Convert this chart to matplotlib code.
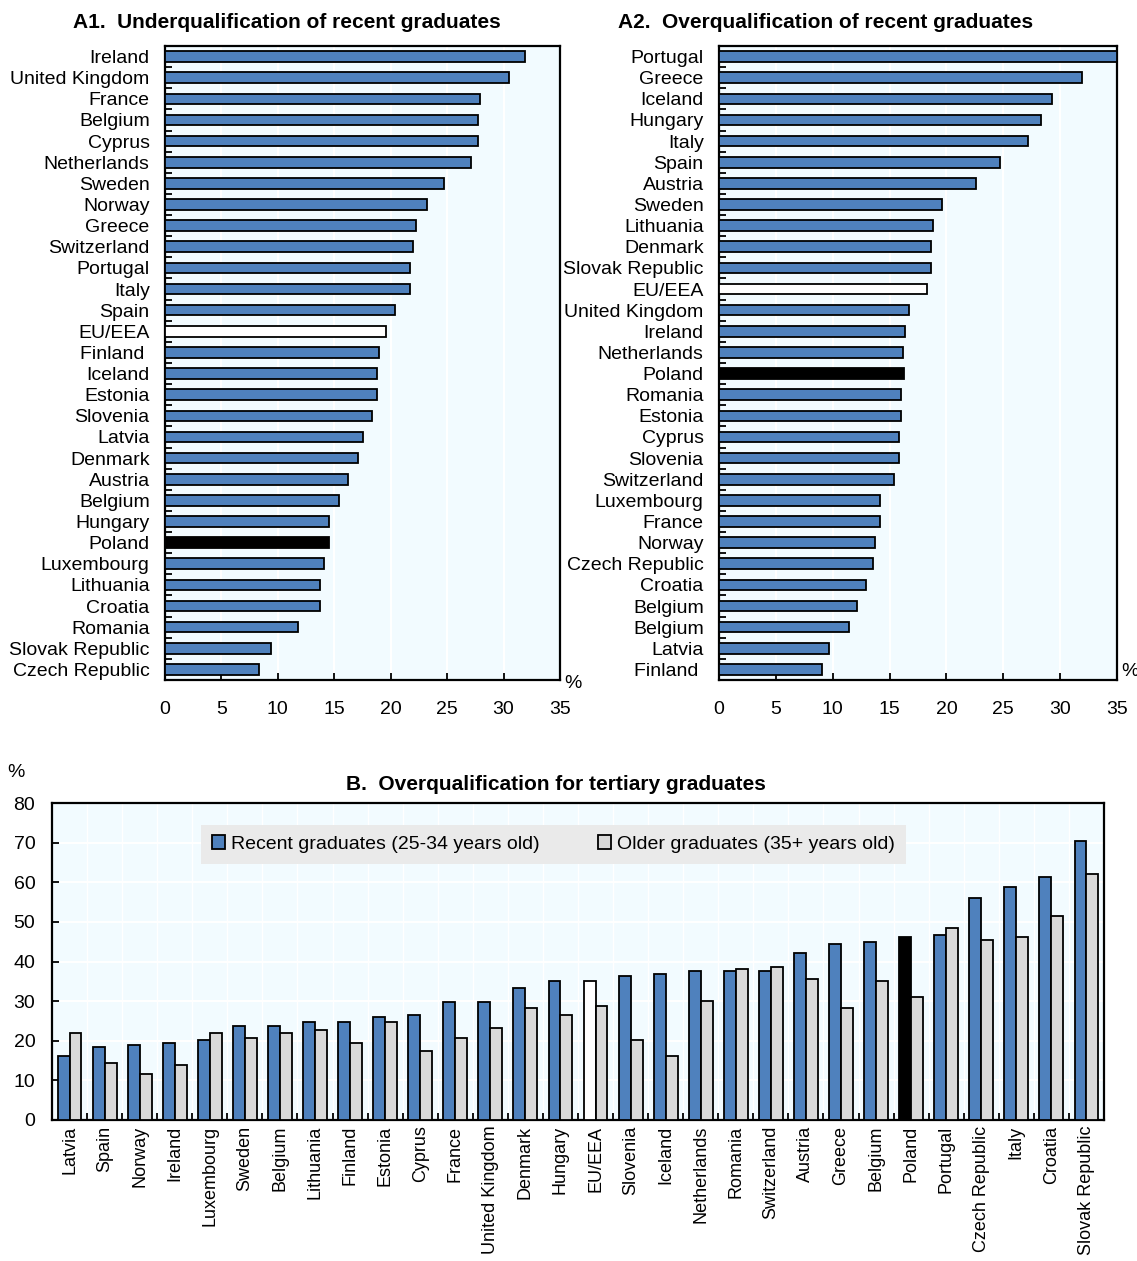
import matplotlib.pyplot as plt
import numpy as np

plt.rcParams['font.family'] = ['Liberation Sans', 'DejaVu Sans']

# panel A1: underqualification of recent graduates (%)
a1_names = ['Ireland', 'United Kingdom', 'France', 'Belgium', 'Cyprus', 'Netherlands',
            'Sweden', 'Norway', 'Greece', 'Switzerland', 'Portugal', 'Italy', 'Spain',
            'EU/EEA', 'Finland ', 'Iceland', 'Estonia', 'Slovenia', 'Latvia', 'Denmark',
            'Austria', 'Belgium', 'Hungary', 'Poland', 'Luxembourg', 'Lithuania',
            'Croatia', 'Romania', 'Slovak Republic', 'Czech Republic']
a1_vals = [31.9, 30.5, 27.9, 27.7, 27.7, 27.1, 24.7, 23.2, 22.2, 22.0, 21.7, 21.7, 20.4,
           19.6, 19.0, 18.8, 18.8, 18.3, 17.5, 17.1, 16.2, 15.4, 14.5, 14.5, 14.1, 13.7,
           13.7, 11.8, 9.4, 8.3]

# panel A2: overqualification of recent graduates (%)
a2_names = ['Portugal', 'Greece', 'Iceland', 'Hungary', 'Italy', 'Spain', 'Austria',
            'Sweden', 'Lithuania', 'Denmark', 'Slovak Republic', 'EU/EEA',
            'United Kingdom', 'Ireland', 'Netherlands', 'Poland', 'Romania', 'Estonia',
            'Cyprus', 'Slovenia', 'Switzerland', 'Luxembourg', 'France', 'Norway',
            'Czech Republic', 'Croatia', 'Belgium', 'Belgium', 'Latvia', 'Finland ']
a2_vals = [35.0, 31.9, 29.3, 28.3, 27.2, 24.7, 22.6, 19.6, 18.8, 18.6, 18.6, 18.3, 16.7,
           16.4, 16.2, 16.3, 16.0, 16.0, 15.8, 15.8, 15.4, 14.2, 14.2, 13.7, 13.5, 12.9,
           12.1, 11.4, 9.7, 9.1]

# panel B: overqualification for tertiary graduates (%)
b_names = ['Latvia', 'Spain', 'Norway', 'Ireland', 'Luxembourg', 'Sweden', 'Belgium',
           'Lithuania', 'Finland', 'Estonia', 'Cyprus', 'France', 'United Kingdom',
           'Denmark', 'Hungary', 'EU/EEA', 'Slovenia', 'Iceland', 'Netherlands',
           'Romania', 'Switzerland', 'Austria', 'Greece', 'Belgium', 'Poland',
           'Portugal', 'Czech Republic', 'Italy', 'Croatia', 'Slovak Republic']
b_recent = [16.2, 18.5, 18.9, 19.5, 20.2, 23.6, 23.6, 24.7, 24.7, 25.9, 26.4, 29.9, 29.9,
            33.4, 35.2, 35.2, 36.4, 36.9, 37.5, 37.5, 37.5, 42.1, 44.5, 45.0, 46.1, 46.7,
            56.0, 58.9, 61.2, 70.5]
b_older = [21.9, 14.5, 11.5, 13.9, 21.9, 20.8, 21.9, 22.6, 19.5, 24.8, 17.3, 20.8, 23.1,
           28.2, 26.4, 28.8, 20.1, 16.2, 30.1, 38.1, 38.7, 35.7, 28.2, 35.2, 31.1, 48.4,
           45.5, 46.1, 51.4, 62.2]

BLUE = '#4F81BD'
GREY = '#D9D9D9'
BG = '#F2FBFF'
FS = 14


def bar_color(name):
    if name == 'Poland':
        return 'black'
    if name == 'EU/EEA':
        return 'white'
    return BLUE


def style_box(ax):
    ax.set_facecolor(BG)
    for s in ax.spines.values():
        s.set_linewidth(1.6)
        s.set_color('black')


def hbar_panel(ax, names, vals, title, tx):
    n = len(names)
    y = np.arange(n)
    ax.barh(y, vals, height=0.5, color=[bar_color(c) for c in names],
            edgecolor='black', linewidth=1.3, zorder=3)
    ax.set_ylim(n - 0.5, -0.5)
    ax.set_xlim(0, 35)
    ax.set_xticks(np.arange(0, 36, 5))
    ax.set_yticks(y)
    ax.set_yticklabels(names, fontsize=FS)
    ax.set_yticks(np.arange(n - 1) + 0.5, minor=True)
    ax.tick_params(axis='y', which='major', length=0, pad=11)
    ax.tick_params(axis='y', which='minor', direction='in', length=5, width=1.3)
    ax.tick_params(axis='x', direction='in', length=5, width=1.3, pad=15, labelsize=FS)
    ax.grid(axis='x', color='white', linewidth=1.5, zorder=0)
    ax.set_axisbelow(True)
    style_box(ax)
    fig.text(tx, 1 - 22 / 1261, title, ha='center', va='center', fontsize=15,
             fontweight='bold')


fig = plt.figure(figsize=(11.37, 12.61), dpi=100)

ax1 = fig.add_axes([165 / 1137, 1 - 680 / 1261, 395 / 1137, 634 / 1261])
hbar_panel(ax1, a1_names, a1_vals, 'A1.  Underqualification of recent graduates', 287 / 1137)
ax1.text(1.01, -0.005, '%', transform=ax1.transAxes, fontsize=FS, ha='left', va='center')

ax2 = fig.add_axes([719 / 1137, 1 - 680 / 1261, 398 / 1137, 634 / 1261])
hbar_panel(ax2, a2_names, a2_vals, 'A2.  Overqualification of recent graduates', 826 / 1137)
ax2.text(1.01, 0.0, '%', transform=ax2.transAxes, fontsize=FS, ha='left', va='bottom')

# grouped bars for panel B
axb = fig.add_axes([52 / 1137, 1 - 1120 / 1261, 1052 / 1137, 317 / 1261])
n = len(b_names)
x = np.arange(n)
w = 0.34
axb.bar(x - w / 2, b_recent, width=w, color=[bar_color(c) for c in b_names],
        edgecolor='black', linewidth=1.3, zorder=3, label='Recent graduates (25-34 years old)')
axb.bar(x + w / 2, b_older, width=w, color=GREY, edgecolor='black', linewidth=1.3,
        zorder=3, label='Older graduates (35+ years old)')
axb.set_xlim(-0.5, n - 0.5)
axb.set_ylim(0, 80)
axb.set_yticks(np.arange(0, 81, 10))
axb.set_xticks(x)
axb.set_xticklabels(b_names, rotation=90, fontsize=13)
axb.set_xticks(np.arange(n - 1) + 0.5, minor=True)
axb.tick_params(axis='x', which='major', length=0, pad=4)
axb.tick_params(axis='x', which='minor', direction='in', length=5, width=1.3)
axb.tick_params(axis='y', direction='in', length=5, width=1.3, pad=12, labelsize=FS)
axb.grid(axis='y', color='white', linewidth=1.5, zorder=0)
axb.grid(axis='x', which='minor', color='white', linewidth=1.0, zorder=0)
axb.set_axisbelow(True)
style_box(axb)
axb.text(-0.043, 1.07, '%', transform=axb.transAxes, fontsize=FS, ha='left', va='bottom')
fig.text(556 / 1137, 1 - 785 / 1261, 'B.  Overqualification for tertiary graduates',
         ha='center', va='center', fontsize=15, fontweight='bold')

leg = axb.legend(loc='center', bbox_to_anchor=(0.1416, 0.801, 0.670, 0.139), ncol=2,
                 fontsize=FS, frameon=True, fancybox=False, handlelength=0.7,
                 handleheight=0.7, handletextpad=0.3, columnspacing=1.6,
                 borderpad=0.55, mode='expand', borderaxespad=0)
leg.get_frame().set_facecolor('#EAEAEA')
leg.get_frame().set_edgecolor('none')
leg.get_frame().set_alpha(1)

fig.savefig('out.png', dpi=100)
